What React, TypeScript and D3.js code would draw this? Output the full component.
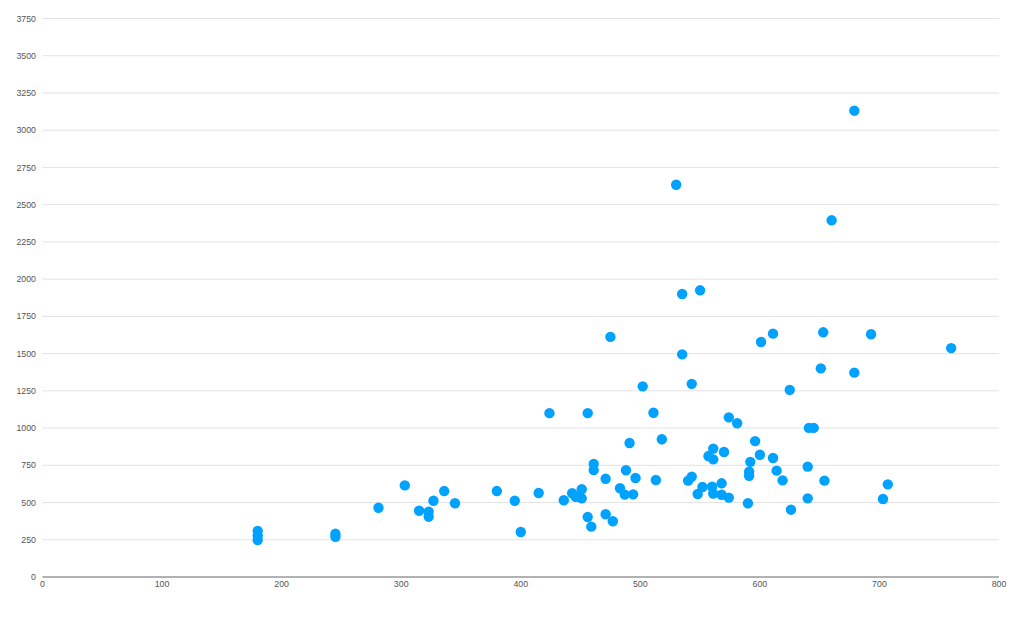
import React from "react";
import * as d3 from "d3";

const xValues: number[] = [
  180, 180, 180, 245, 245, 281, 303, 315, 323, 323, 327, 336, 345, 380, 395, 400,
  415, 424, 436, 443, 446, 451, 451, 456, 456, 459, 461, 461, 471, 471, 475, 477,
  483, 487, 488, 491, 494, 496, 502, 511, 513, 518, 530, 535, 535, 540, 543, 543,
  548, 550, 552, 557, 560, 561, 561, 561, 568, 568, 570, 574, 574, 581, 590, 591,
  591, 592, 596, 600, 601, 611, 611, 614, 619, 625, 626, 640, 640, 641, 645, 651,
  653, 654, 660, 679, 679, 693, 703, 707, 760,
];
const yValues: number[] = [
  310, 278, 248, 290, 270, 465, 615, 445, 438, 405, 512, 577, 495, 577, 512, 302,
  564, 1100, 515, 562, 539, 589, 528, 1100, 403, 338, 759, 718, 660, 421, 1612, 374,
  596, 553, 717, 900, 555, 665, 1280, 1103, 651, 925, 2634, 1900, 1495, 647, 674, 1297,
  557, 1925, 604, 812, 606, 862, 790, 560, 629, 552, 839, 1072, 533, 1032, 495, 707,
  680, 773, 912, 821, 1578, 1634, 799, 714, 649, 1256, 452, 741, 528, 1001, 1001, 1401,
  1643, 647, 2395, 3131, 1372, 1630, 524, 622, 1537,
];
const xTicks: number[] = [0, 100, 200, 300, 400, 500, 600, 700, 800];
const yTicks: number[] = [0, 250, 500, 750, 1000, 1250, 1500, 1750, 2000, 2250, 2500, 2750, 3000, 3250, 3500, 3750];

const W = 1024;
const H = 617;

export default function App() {
  const x = d3.scaleLinear().domain([0, 800]).range([42.5, 999]);
  const y = d3.scaleLinear().domain([0, 3750]).range([577, 18.5]);
  const pts = xValues.map((v, i) => ({ x: v, y: yValues[i] }));
  const font = "'Liberation Sans', Arial, Helvetica, sans-serif";
  return (
    <svg
      width={W}
      height={H}
      style={{ position: "absolute", left: 0, top: 0, background: "#fff" }}
    >
      {yTicks.map((t) => (
        <g key={"y" + t}>
          {t > 0 && (
            <line x1={x(0)} x2={x(800)} y1={y(t)} y2={y(t)} stroke="#e3e3e3" strokeWidth={1} />
          )}
          <text
            x={36}
            y={y(t)}
            dy="0.35em"
            textAnchor="end"
            fontSize={8.8}
            fill="#555"
            fontFamily={font}
          >
            {t}
          </text>
        </g>
      ))}
      <line x1={x(0)} x2={x(800)} y1={y(0)} y2={y(0)} stroke="#999" strokeWidth={1.5} />
      {xTicks.map((t) => (
        <text
          key={"x" + t}
          x={x(t)}
          y={587}
          textAnchor="middle"
          fontSize={8.8}
          fill="#555"
          fontFamily={font}
        >
          {t}
        </text>
      ))}
      {pts.map((p, i) => (
        <circle key={i} cx={x(p.x)} cy={y(p.y)} r={5.2} fill="#00a2ff" />
      ))}
    </svg>
  );
}
